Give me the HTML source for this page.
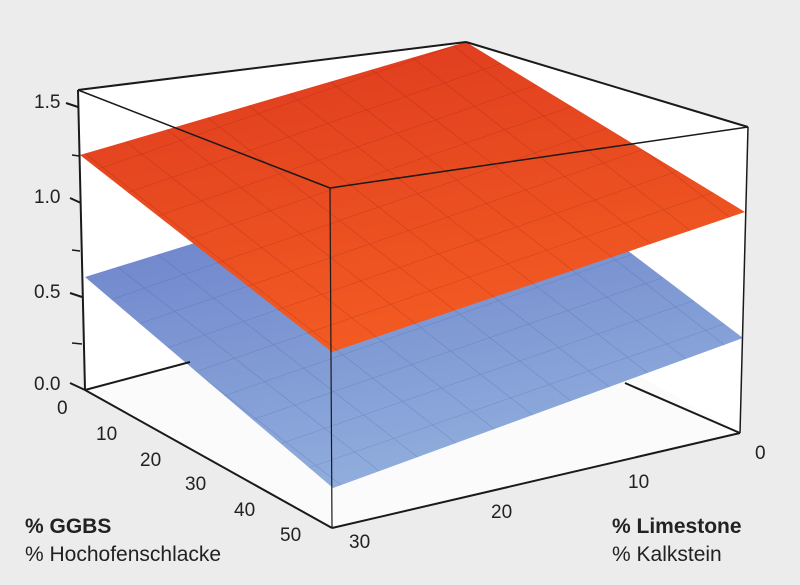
<!DOCTYPE html>
<html><head><meta charset="utf-8"><style>
html,body{margin:0;padding:0;background:#ececec;}
svg{display:block;font-family:"Liberation Sans",sans-serif;}
</style></head><body>
<svg width="800" height="585" viewBox="0 0 800 585" xmlns="http://www.w3.org/2000/svg">
<defs>
<pattern id="g" width="30" height="30" patternUnits="userSpaceOnUse" patternTransform="matrix(1,0.78,1.3,-0.45,0,0)">
<path d="M0 0H30M0 0V30" stroke="#203080" stroke-opacity="0.22" stroke-width="1" fill="none"/>
</pattern>
<pattern id="gr" width="30" height="30" patternUnits="userSpaceOnUse" patternTransform="matrix(1,0.78,1.3,-0.45,0,0)">
<path d="M0 0H30M0 0V30" stroke="#600000" stroke-opacity="0.22" stroke-width="1" fill="none"/>
</pattern>
<linearGradient id="bl" x1="0" y1="0" x2="0.3" y2="1">
<stop offset="0" stop-color="#5d72c4"/>
<stop offset="1" stop-color="#89a8da"/>
</linearGradient>
<linearGradient id="rd" x1="0" y1="0" x2="0.3" y2="1">
<stop offset="0" stop-color="#de3a1f"/>
<stop offset="1" stop-color="#f25a22"/>
</linearGradient>
</defs>
<rect width="800" height="585" fill="#ececec"/>
<polygon points="78,90 466,42 493,295 85,390" fill="#ffffff"/>
<polygon points="466,42 748,127 740,433 493,295" fill="#ffffff"/>
<polygon points="85,390 493,295 740,433 332,528" fill="#fbfbfb"/>
<polygon points="85,277 495,150 743,338 333,488" fill="url(#bl)" fill-opacity="0.95"/>
<polygon points="85,277 495,150 743,338 333,488" fill="url(#g)"/>
<polygon points="80,155 466,42 745,212 332,352" fill="url(#rd)"/>
<polygon points="80,155 466,42 745,212 332,352" fill="url(#gr)"/>
<g stroke="#1a1a1a" stroke-width="2" fill="none">
<line x1="78" y1="90" x2="466" y2="42"/>
<line x1="466" y1="42" x2="748" y2="127"/>
<line x1="78" y1="90" x2="330" y2="188" stroke-width="1.5"/>
<line x1="330" y1="188" x2="748" y2="127" stroke-width="1.5"/>
<line x1="330" y1="188" x2="332" y2="528" stroke-width="1.2"/>
<line x1="78" y1="90" x2="85" y2="390"/>
<line x1="748" y1="127" x2="740" y2="433" stroke-width="1.5"/>
<line x1="85" y1="390" x2="332" y2="528"/>
<line x1="332" y1="528" x2="740" y2="433"/>
<line x1="85" y1="390" x2="190" y2="362"/>
<line x1="740" y1="433" x2="625" y2="383"/>
<line x1="66" y1="103" x2="78" y2="107"/>
<line x1="70" y1="198" x2="81" y2="203"/>
<line x1="70" y1="293" x2="82" y2="297"/>
<line x1="70" y1="383" x2="85" y2="390"/>
<line x1="72" y1="155" x2="79" y2="156" stroke-width="1.5"/>
<line x1="72" y1="250" x2="80" y2="251" stroke-width="1.5"/>
<line x1="72" y1="343" x2="82" y2="344" stroke-width="1.5"/>
</g>
<g font-size="19" fill="#222">
<text x="34" y="108">1.5</text>
<text x="34" y="203">1.0</text>
<text x="34" y="298">0.5</text>
<text x="34" y="390">0.0</text>
<text x="57" y="414">0</text>
<text x="96" y="440">10</text>
<text x="140" y="466">20</text>
<text x="185" y="490">30</text>
<text x="234" y="516">40</text>
<text x="280" y="541">50</text>
<text x="755" y="459">0</text>
<text x="628" y="488">10</text>
<text x="491" y="518">20</text>
<text x="349" y="548">30</text>
</g>
<g font-size="21" fill="#222">
<text x="25" y="533" font-weight="bold">% GGBS</text>
<text x="25" y="561">% Hochofenschlacke</text>
<text x="612" y="533" font-weight="bold">% Limestone</text>
<text x="612" y="561">% Kalkstein</text>
</g>
</svg>
</body></html>
